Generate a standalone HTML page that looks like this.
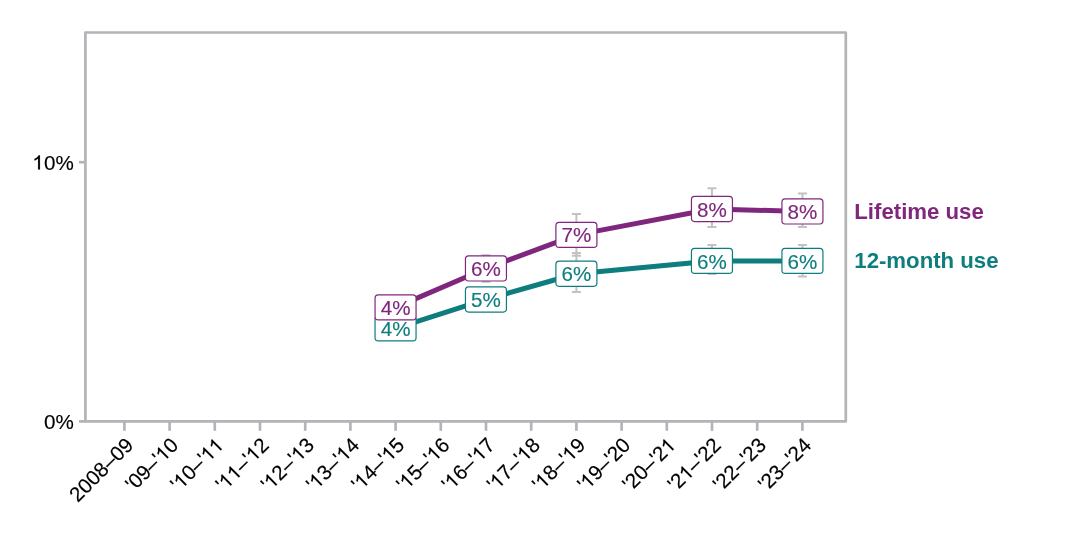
<!DOCTYPE html>
<html><head><meta charset="utf-8"><title>Chart</title>
<style>html,body{margin:0;padding:0;background:#fff;}body{width:1075px;height:538px;overflow:hidden;}svg{display:block;will-change:transform;}text{font-family:"Liberation Sans",sans-serif;font-kerning:none;white-space:pre;}</style></head><body>
<svg width="1075" height="538" viewBox="0 0 1075 538">
<rect width="1075" height="538" fill="#fff"/>
<g stroke="#c2c2c2" stroke-width="2" fill="none">
<path d="M485.95 255.30V281.70M481.45 255.30H490.45M481.45 281.70H490.45"/>
<path d="M576.40 214.00V255.80M571.90 214.00H580.90M571.90 255.80H580.90"/>
<path d="M576.40 253.00V292.00M571.90 253.00H580.90M571.90 292.00H580.90"/>
<path d="M711.95 188.20V227.00M707.45 188.20H716.45M707.45 227.00H716.45"/>
<path d="M711.95 245.10V274.10M707.45 245.10H716.45M707.45 274.10H716.45"/>
<path d="M802.43 193.50V227.10M797.93 193.50H806.93M797.93 227.10H806.93"/>
<path d="M802.43 245.10V276.40M797.93 245.10H806.93M797.93 276.40H806.93"/>
</g>
<polyline fill="none" stroke="#0e7d7e" stroke-width="5.0" stroke-linejoin="round" points="395.55,328.30 485.95,299.49 576.40,273.75 711.95,260.90 802.43,260.90"/>
<polyline fill="none" stroke="#7f267d" stroke-width="5.0" stroke-linejoin="round" points="395.55,307.33 485.95,268.47 576.40,234.86 711.95,208.98 802.43,211.47"/>
<rect x="85.40" y="32.50" width="760.40" height="388.90" fill="none" stroke="#b3b3b8" stroke-width="2.7" stroke-linejoin="round"/>
<g stroke="#b3b3b8" stroke-width="2.67" fill="none">
<path d="M79.00 421.40H85.40"/>
<path d="M79.00 162.20H85.40"/>
<path d="M124.40 421.40V430.80"/>
<path d="M169.60 421.40V430.80"/>
<path d="M214.80 421.40V430.80"/>
<path d="M260.00 421.40V430.80"/>
<path d="M305.20 421.40V430.80"/>
<path d="M350.40 421.40V430.80"/>
<path d="M395.60 421.40V430.80"/>
<path d="M440.80 421.40V430.80"/>
<path d="M486.00 421.40V430.80"/>
<path d="M531.20 421.40V430.80"/>
<path d="M576.40 421.40V430.80"/>
<path d="M621.60 421.40V430.80"/>
<path d="M666.80 421.40V430.80"/>
<path d="M712.00 421.40V430.80"/>
<path d="M757.20 421.40V430.80"/>
<path d="M802.40 421.40V430.80"/>
</g>
<rect x="375.05" y="315.75" width="41.00" height="25.10" rx="3.2" fill="#fff" stroke="#0e7d7e" stroke-width="1.2"/>
<g transform="translate(395.55,335.90)"><text x="0" y="0.00" font-size="20.6" text-anchor="middle" fill="#0e7d7e" stroke="#0e7d7e" stroke-width="0.15">4%</text></g>
<rect x="465.45" y="286.94" width="41.00" height="25.10" rx="3.2" fill="#fff" stroke="#0e7d7e" stroke-width="1.2"/>
<g transform="translate(485.95,307.09)"><text x="0" y="0.00" font-size="20.6" text-anchor="middle" fill="#0e7d7e" stroke="#0e7d7e" stroke-width="0.15">5%</text></g>
<rect x="555.90" y="261.20" width="41.00" height="25.10" rx="3.2" fill="#fff" stroke="#0e7d7e" stroke-width="1.2"/>
<g transform="translate(576.40,281.35)"><text x="0" y="0.00" font-size="20.6" text-anchor="middle" fill="#0e7d7e" stroke="#0e7d7e" stroke-width="0.15">6%</text></g>
<rect x="691.45" y="248.35" width="41.00" height="25.10" rx="3.2" fill="#fff" stroke="#0e7d7e" stroke-width="1.2"/>
<g transform="translate(711.95,268.50)"><text x="0" y="0.00" font-size="20.6" text-anchor="middle" fill="#0e7d7e" stroke="#0e7d7e" stroke-width="0.15">6%</text></g>
<rect x="781.93" y="248.35" width="41.00" height="25.10" rx="3.2" fill="#fff" stroke="#0e7d7e" stroke-width="1.2"/>
<g transform="translate(802.43,268.50)"><text x="0" y="0.00" font-size="20.6" text-anchor="middle" fill="#0e7d7e" stroke="#0e7d7e" stroke-width="0.15">6%</text></g>
<rect x="375.05" y="294.78" width="41.00" height="25.10" rx="3.2" fill="#fff" stroke="#7f267d" stroke-width="1.2"/>
<g transform="translate(395.55,314.93)"><text x="0" y="0.00" font-size="20.6" text-anchor="middle" fill="#7f267d" stroke="#7f267d" stroke-width="0.15">4%</text></g>
<rect x="465.45" y="255.92" width="41.00" height="25.10" rx="3.2" fill="#fff" stroke="#7f267d" stroke-width="1.2"/>
<g transform="translate(485.95,276.07)"><text x="0" y="0.00" font-size="20.6" text-anchor="middle" fill="#7f267d" stroke="#7f267d" stroke-width="0.15">6%</text></g>
<rect x="555.90" y="222.31" width="41.00" height="25.10" rx="3.2" fill="#fff" stroke="#7f267d" stroke-width="1.2"/>
<g transform="translate(576.40,242.46)"><text x="0" y="0.00" font-size="20.6" text-anchor="middle" fill="#7f267d" stroke="#7f267d" stroke-width="0.15">7%</text></g>
<rect x="691.45" y="196.43" width="41.00" height="25.10" rx="3.2" fill="#fff" stroke="#7f267d" stroke-width="1.2"/>
<g transform="translate(711.95,216.58)"><text x="0" y="0.00" font-size="20.6" text-anchor="middle" fill="#7f267d" stroke="#7f267d" stroke-width="0.15">8%</text></g>
<rect x="781.93" y="198.92" width="41.00" height="25.10" rx="3.2" fill="#fff" stroke="#7f267d" stroke-width="1.2"/>
<g transform="translate(802.43,219.07)"><text x="0" y="0.00" font-size="20.6" text-anchor="middle" fill="#7f267d" stroke="#7f267d" stroke-width="0.15">8%</text></g>
<g transform="translate(73.80,169.50)"><text x="0" y="0.00" font-size="20.6" text-anchor="end" fill="#000" stroke="#000" stroke-width="0.15"> 0%</text><path d="M730 0H550V1098Q485 1039 379.5 979Q274 920 190 890V1057Q341 1124 454 1221Q567 1318 614 1409H730Z" transform="translate(-41.230,0.00) scale(0.010059,-0.010059)" fill="#000" stroke="#000" stroke-width="14.9"/></g>
<g transform="translate(73.80,428.70)"><text x="0" y="0.00" font-size="20.6" text-anchor="end" fill="#000" stroke="#000" stroke-width="0.15">0%</text></g>
<g transform="translate(124.10,435.90) rotate(-45)"><text x="0" y="14.70" font-size="20.6" text-anchor="end" fill="#000" stroke="#000" stroke-width="0.15">2008–09</text></g>
<g transform="translate(169.30,435.90) rotate(-45)"><text x="0" y="14.70" font-size="20.6" text-anchor="end" fill="#000" stroke="#000" stroke-width="0.15">'09–' 0</text><path d="M730 0H550V1098Q485 1039 379.5 979Q274 920 190 890V1057Q341 1124 454 1221Q567 1318 614 1409H730Z" transform="translate(-22.913,14.70) scale(0.010059,-0.010059)" fill="#000" stroke="#000" stroke-width="14.9"/></g>
<g transform="translate(214.50,435.90) rotate(-45)"><text x="0" y="14.70" font-size="20.6" text-anchor="end" fill="#000" stroke="#000" stroke-width="0.15">' 0–'  </text><path d="M730 0H550V1098Q485 1039 379.5 979Q274 920 190 890V1057Q341 1124 454 1221Q567 1318 614 1409H730Z" transform="translate(-61.217,14.70) scale(0.010059,-0.010059)" fill="#000" stroke="#000" stroke-width="14.9"/><path d="M730 0H550V1098Q485 1039 379.5 979Q274 920 190 890V1057Q341 1124 454 1221Q567 1318 614 1409H730Z" transform="translate(-22.913,14.70) scale(0.010059,-0.010059)" fill="#000" stroke="#000" stroke-width="14.9"/><path d="M730 0H550V1098Q485 1039 379.5 979Q274 920 190 890V1057Q341 1124 454 1221Q567 1318 614 1409H730Z" transform="translate(-11.457,14.70) scale(0.010059,-0.010059)" fill="#000" stroke="#000" stroke-width="14.9"/></g>
<g transform="translate(259.70,435.90) rotate(-45)"><text x="0" y="14.70" font-size="20.6" text-anchor="end" fill="#000" stroke="#000" stroke-width="0.15">'  –' 2</text><path d="M730 0H550V1098Q485 1039 379.5 979Q274 920 190 890V1057Q341 1124 454 1221Q567 1318 614 1409H730Z" transform="translate(-61.217,14.70) scale(0.010059,-0.010059)" fill="#000" stroke="#000" stroke-width="14.9"/><path d="M730 0H550V1098Q485 1039 379.5 979Q274 920 190 890V1057Q341 1124 454 1221Q567 1318 614 1409H730Z" transform="translate(-49.760,14.70) scale(0.010059,-0.010059)" fill="#000" stroke="#000" stroke-width="14.9"/><path d="M730 0H550V1098Q485 1039 379.5 979Q274 920 190 890V1057Q341 1124 454 1221Q567 1318 614 1409H730Z" transform="translate(-22.913,14.70) scale(0.010059,-0.010059)" fill="#000" stroke="#000" stroke-width="14.9"/></g>
<g transform="translate(304.90,435.90) rotate(-45)"><text x="0" y="14.70" font-size="20.6" text-anchor="end" fill="#000" stroke="#000" stroke-width="0.15">' 2–' 3</text><path d="M730 0H550V1098Q485 1039 379.5 979Q274 920 190 890V1057Q341 1124 454 1221Q567 1318 614 1409H730Z" transform="translate(-61.217,14.70) scale(0.010059,-0.010059)" fill="#000" stroke="#000" stroke-width="14.9"/><path d="M730 0H550V1098Q485 1039 379.5 979Q274 920 190 890V1057Q341 1124 454 1221Q567 1318 614 1409H730Z" transform="translate(-22.913,14.70) scale(0.010059,-0.010059)" fill="#000" stroke="#000" stroke-width="14.9"/></g>
<g transform="translate(350.10,435.90) rotate(-45)"><text x="0" y="14.70" font-size="20.6" text-anchor="end" fill="#000" stroke="#000" stroke-width="0.15">' 3–' 4</text><path d="M730 0H550V1098Q485 1039 379.5 979Q274 920 190 890V1057Q341 1124 454 1221Q567 1318 614 1409H730Z" transform="translate(-61.217,14.70) scale(0.010059,-0.010059)" fill="#000" stroke="#000" stroke-width="14.9"/><path d="M730 0H550V1098Q485 1039 379.5 979Q274 920 190 890V1057Q341 1124 454 1221Q567 1318 614 1409H730Z" transform="translate(-22.913,14.70) scale(0.010059,-0.010059)" fill="#000" stroke="#000" stroke-width="14.9"/></g>
<g transform="translate(395.30,435.90) rotate(-45)"><text x="0" y="14.70" font-size="20.6" text-anchor="end" fill="#000" stroke="#000" stroke-width="0.15">' 4–' 5</text><path d="M730 0H550V1098Q485 1039 379.5 979Q274 920 190 890V1057Q341 1124 454 1221Q567 1318 614 1409H730Z" transform="translate(-61.217,14.70) scale(0.010059,-0.010059)" fill="#000" stroke="#000" stroke-width="14.9"/><path d="M730 0H550V1098Q485 1039 379.5 979Q274 920 190 890V1057Q341 1124 454 1221Q567 1318 614 1409H730Z" transform="translate(-22.913,14.70) scale(0.010059,-0.010059)" fill="#000" stroke="#000" stroke-width="14.9"/></g>
<g transform="translate(440.50,435.90) rotate(-45)"><text x="0" y="14.70" font-size="20.6" text-anchor="end" fill="#000" stroke="#000" stroke-width="0.15">' 5–' 6</text><path d="M730 0H550V1098Q485 1039 379.5 979Q274 920 190 890V1057Q341 1124 454 1221Q567 1318 614 1409H730Z" transform="translate(-61.217,14.70) scale(0.010059,-0.010059)" fill="#000" stroke="#000" stroke-width="14.9"/><path d="M730 0H550V1098Q485 1039 379.5 979Q274 920 190 890V1057Q341 1124 454 1221Q567 1318 614 1409H730Z" transform="translate(-22.913,14.70) scale(0.010059,-0.010059)" fill="#000" stroke="#000" stroke-width="14.9"/></g>
<g transform="translate(485.70,435.90) rotate(-45)"><text x="0" y="14.70" font-size="20.6" text-anchor="end" fill="#000" stroke="#000" stroke-width="0.15">' 6–' 7</text><path d="M730 0H550V1098Q485 1039 379.5 979Q274 920 190 890V1057Q341 1124 454 1221Q567 1318 614 1409H730Z" transform="translate(-61.217,14.70) scale(0.010059,-0.010059)" fill="#000" stroke="#000" stroke-width="14.9"/><path d="M730 0H550V1098Q485 1039 379.5 979Q274 920 190 890V1057Q341 1124 454 1221Q567 1318 614 1409H730Z" transform="translate(-22.913,14.70) scale(0.010059,-0.010059)" fill="#000" stroke="#000" stroke-width="14.9"/></g>
<g transform="translate(530.90,435.90) rotate(-45)"><text x="0" y="14.70" font-size="20.6" text-anchor="end" fill="#000" stroke="#000" stroke-width="0.15">' 7–' 8</text><path d="M730 0H550V1098Q485 1039 379.5 979Q274 920 190 890V1057Q341 1124 454 1221Q567 1318 614 1409H730Z" transform="translate(-61.217,14.70) scale(0.010059,-0.010059)" fill="#000" stroke="#000" stroke-width="14.9"/><path d="M730 0H550V1098Q485 1039 379.5 979Q274 920 190 890V1057Q341 1124 454 1221Q567 1318 614 1409H730Z" transform="translate(-22.913,14.70) scale(0.010059,-0.010059)" fill="#000" stroke="#000" stroke-width="14.9"/></g>
<g transform="translate(576.10,435.90) rotate(-45)"><text x="0" y="14.70" font-size="20.6" text-anchor="end" fill="#000" stroke="#000" stroke-width="0.15">' 8–' 9</text><path d="M730 0H550V1098Q485 1039 379.5 979Q274 920 190 890V1057Q341 1124 454 1221Q567 1318 614 1409H730Z" transform="translate(-61.217,14.70) scale(0.010059,-0.010059)" fill="#000" stroke="#000" stroke-width="14.9"/><path d="M730 0H550V1098Q485 1039 379.5 979Q274 920 190 890V1057Q341 1124 454 1221Q567 1318 614 1409H730Z" transform="translate(-22.913,14.70) scale(0.010059,-0.010059)" fill="#000" stroke="#000" stroke-width="14.9"/></g>
<g transform="translate(621.30,435.90) rotate(-45)"><text x="0" y="14.70" font-size="20.6" text-anchor="end" fill="#000" stroke="#000" stroke-width="0.15">' 9–'20</text><path d="M730 0H550V1098Q485 1039 379.5 979Q274 920 190 890V1057Q341 1124 454 1221Q567 1318 614 1409H730Z" transform="translate(-61.217,14.70) scale(0.010059,-0.010059)" fill="#000" stroke="#000" stroke-width="14.9"/></g>
<g transform="translate(666.50,435.90) rotate(-45)"><text x="0" y="14.70" font-size="20.6" text-anchor="end" fill="#000" stroke="#000" stroke-width="0.15">'20–'2 </text><path d="M730 0H550V1098Q485 1039 379.5 979Q274 920 190 890V1057Q341 1124 454 1221Q567 1318 614 1409H730Z" transform="translate(-11.457,14.70) scale(0.010059,-0.010059)" fill="#000" stroke="#000" stroke-width="14.9"/></g>
<g transform="translate(711.70,435.90) rotate(-45)"><text x="0" y="14.70" font-size="20.6" text-anchor="end" fill="#000" stroke="#000" stroke-width="0.15">'2 –'22</text><path d="M730 0H550V1098Q485 1039 379.5 979Q274 920 190 890V1057Q341 1124 454 1221Q567 1318 614 1409H730Z" transform="translate(-49.760,14.70) scale(0.010059,-0.010059)" fill="#000" stroke="#000" stroke-width="14.9"/></g>
<g transform="translate(756.90,435.90) rotate(-45)"><text x="0" y="14.70" font-size="20.6" text-anchor="end" fill="#000" stroke="#000" stroke-width="0.15">'22–'23</text></g>
<g transform="translate(802.10,435.90) rotate(-45)"><text x="0" y="14.70" font-size="20.6" text-anchor="end" fill="#000" stroke="#000" stroke-width="0.15">'23–'24</text></g>
<g transform="translate(854.30,219.20)"><text x="0" y="0.00" font-size="22.2" text-anchor="start" fill="#7f267d" font-weight="bold" letter-spacing="0">Lifetime use</text></g>
<g transform="translate(854.30,267.80)"><text x="0" y="0.00" font-size="22.2" text-anchor="start" fill="#0e7d7e" font-weight="bold" letter-spacing="0">12-month use</text></g>
</svg></body></html>
